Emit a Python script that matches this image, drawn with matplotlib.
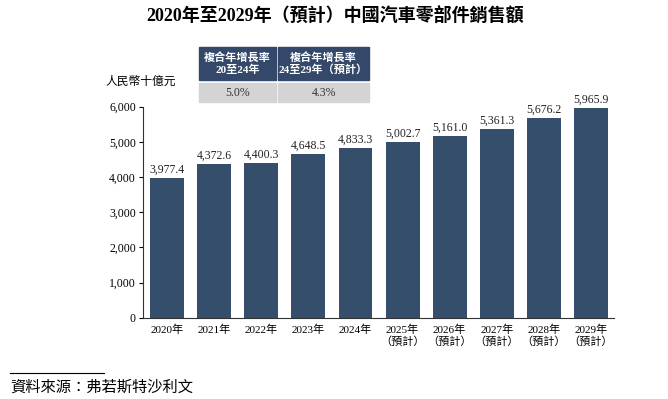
import matplotlib.pyplot as plt
from matplotlib.patches import Rectangle

years = ['2020年', '2021年', '2022年', '2023年', '2024年',
         '2025年\n（預計）', '2026年\n（預計）', '2027年\n（預計）', '2028年\n（預計）', '2029年\n（預計）']
sales = [3977.4, 4372.6, 4400.3, 4648.5, 4833.3, 5002.7, 5161.0, 5361.3, 5676.2, 5965.9]
cagr_heads = ['複合年增長率\n20至24年', '複合年增長率\n24至29年（預計）']
cagr_vals = ['5.0%', '4.3%']

plt.rcParams['font.family'] = ['Liberation Serif', 'Noto Sans CJK TC']
bar_col = '#344e6b'

W, H = 668, 399
fig = plt.figure(figsize=(W / 100, H / 100), dpi=100)
ax = fig.add_axes([142.7 / W, 1 - 317.7 / H, (614 - 142.7) / W, (317.7 - 106.7) / H])

x = list(range(len(sales)))
bars = ax.bar(x, sales, width=0.72, color=bar_col)
for xi, v in zip(x, sales):
    ax.text(xi, v + 60, f'{v:,.1f}', ha='center', va='bottom', fontsize=8.5, color='#222222')

ax.set_xlim(-0.52, 9.49)
ax.set_ylim(0, 6000)
ax.set_yticks(range(0, 6001, 1000))
ax.set_yticklabels([f'{t:,}' for t in range(0, 6001, 1000)], fontsize=8.5)
ax.set_xticks(x)
ax.set_xticklabels(years, fontsize=8, linespacing=1.1)
ax.tick_params(axis='x', length=0, pad=5)
ax.tick_params(axis='y', length=3, width=0.8, pad=2)
ax.spines['top'].set_visible(False)
ax.spines['right'].set_visible(False)
ax.spines['left'].set_color('#333333')
ax.spines['bottom'].set_color('#333333')

fig.text(335 / W, 1 - 16 / H, '2020年至2029年（預計）中國汽車零部件銷售額',
         ha='center', va='center', fontsize=13, fontweight='bold')
fig.text(105 / W, 1 - 82 / H, '人民幣十億元', ha='left', va='center', fontsize=8.5)

# CAGR table
boxes = [(199, 276), (278, 369)]
for (x0, x1), head, val in zip(boxes, cagr_heads, cagr_vals):
    fig.patches.append(Rectangle((x0 / W, 1 - 80 / H), (x1 - x0) / W, 33 / H,
                                 transform=fig.transFigure, color='#34496a'))
    fig.patches.append(Rectangle((x0 / W, 1 - 102 / H), (x1 - x0) / W, 19 / H,
                                 transform=fig.transFigure, color='#d4d4d4'))
    fig.text((x0 + x1) / 2 / W, 1 - 63.5 / H, head, ha='center', va='center',
             fontsize=8, color='white', fontweight='bold', linespacing=1.15)
    fig.text((x0 + x1) / 2 / W, 1 - 92.5 / H, val, ha='center', va='center', fontsize=8.5, color='#333333')

# source note
fig.add_artist(plt.Line2D([10 / W, 104 / W], [1 - 373 / H, 1 - 373 / H], color='black', lw=0.8))
fig.text(10 / W, 1 - 388 / H, '資料來源：弗若斯特沙利文', ha='left', va='center', fontsize=11, style='italic')

fig.savefig('out.png', dpi=100)
